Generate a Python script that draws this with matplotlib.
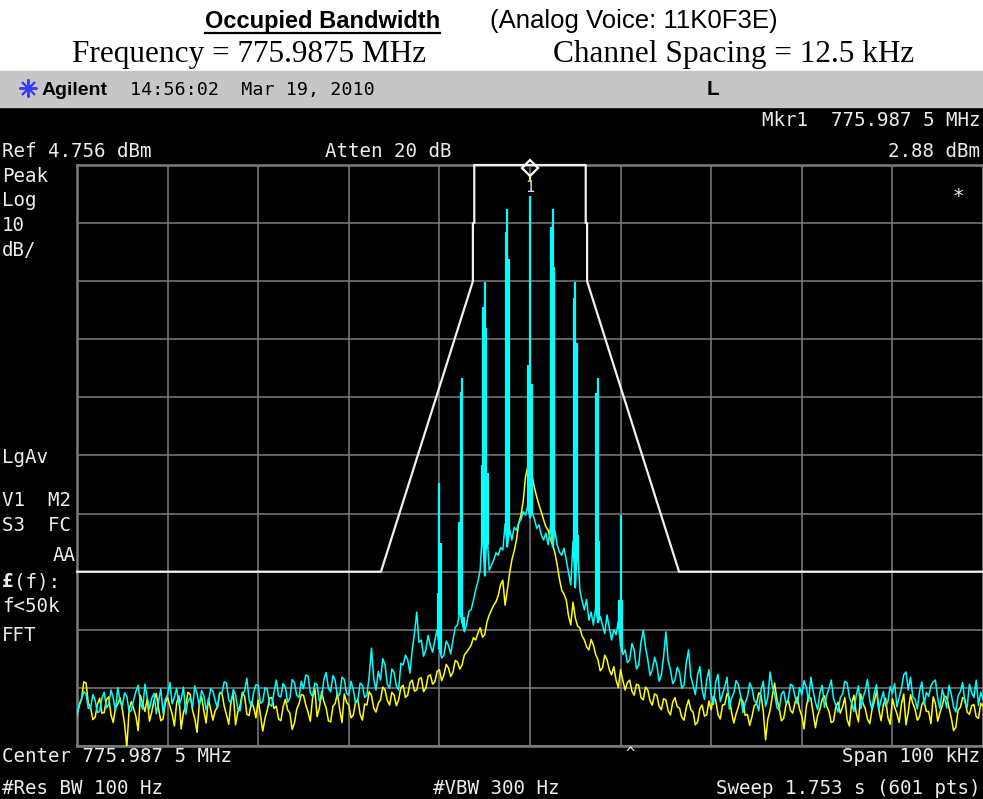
"""Occupied bandwidth capture: analyzer screen with two traces and emission mask"""
import numpy as np
import matplotlib.pyplot as plt
from matplotlib.patches import Rectangle
from matplotlib.lines import Line2D
from matplotlib import transforms

W, H = 983, 799

REF_LEVEL = 4.756          # dBm at top graticule
SPAN = 100                 # kHz
MKR_DBM = 2.88

# trace points every 0.25 kHz, -50 .. +50 kHz around centre
freq_khz = np.linspace(-50, 50, 401)

# cyan trace (dBm), one row per 2.5 kHz
trace_cyan = [
    -90.2, -88.0, -87.1, -85.9, -86.3, -88.8, -88.6, -86.4, -87.4, -89.5,
    -89.3, -87.0, -86.0, -88.7, -88.1, -85.6, -87.0, -89.2, -85.2, -87.6,
    -88.4, -86.1, -86.7, -89.4, -89.1, -87.3, -85.9, -84.8, -87.8, -88.9,
    -84.6, -86.9, -88.9, -87.0, -86.2, -89.7, -87.5, -85.4, -89.6, -87.2,
    -86.4, -84.3, -88.0, -86.8, -85.3, -88.2, -87.2, -85.1, -89.8, -87.5,
    -86.9, -88.6, -84.9, -86.3, -88.3, -85.7, -86.6, -89.0, -87.7, -85.4,
    -85.8, -87.4, -88.7, -86.0, -86.1, -84.2, -84.4, -87.3, -87.9, -85.5,
    -86.5, -88.9, -89.2, -86.4, -85.7, -83.6, -87.3, -88.5, -86.0, -84.7,
    -84.8, -87.9, -87.6, -85.2, -85.5, -88.1, -88.4, -85.9, -83.9, -86.6,
    -86.8, -84.5, -85.1, -87.7, -87.0, -83.8, -84.3, -86.5, -86.9, -84.1,
    -85.4, -83.0, -83.2, -86.1, -86.7, -84.4, -84.7, -87.5, -87.1, -83.7,
    -82.6, -85.3, -85.9, -83.1, -84.0, -86.8, -86.4, -83.4, -83.8, -86.2,
    -86.5, -84.1, -85.6, -87.9, -87.3, -84.4, -84.8, -86.9, -86.5, -83.2,
    -78.4, -83.7, -85.6, -82.4, -83.9, -80.2, -81.3, -84.6, -85.3, -82.0,
    -82.6, -84.9, -85.6, -81.0, -81.3, -79.6, -80.4, -82.7, -78.7, -75.8,
    -72.2, -77.4, -77.0, -79.8, -78.7, -76.2, -77.9, -79.1, -77.0, -75.3,
    -78.5, -80.1, -79.6, -77.2, -77.9, -79.4, -77.0, -74.8, -74.4, -72.0,
    -74.0, -75.6, -74.4, -72.1, -71.8, -70.2, -68.4, -66.9, -65.0, -58.0,
    -66.0, -58.5, -65.0, -64.1, -63.2, -62.0, -62.4, -61.1, -61.5, -57.0,
    -61.0, -58.0, -59.8, -57.6, -58.1, -56.8, -56.3, -54.9, -55.5, -54.0,
    -56.0, -55.1, -56.3, -57.8, -57.2, -58.9, -59.8, -58.6, -60.6, -57.5,
    -61.0, -58.2, -60.6, -61.9, -62.4, -61.2, -63.2, -65.4, -67.5, -60.0,
    -68.0, -60.5, -68.4, -70.3, -71.8, -70.0, -73.6, -72.2, -74.4, -71.5,
    -74.0, -73.0, -74.4, -75.9, -72.7, -74.8, -77.0, -75.2, -76.1, -73.8,
    -78.0, -79.5, -78.7, -80.9, -80.4, -77.6, -78.7, -82.0, -81.3, -77.4,
    -75.3, -78.2, -80.4, -83.1, -82.1, -80.0, -81.3, -84.1, -83.0, -79.8,
    -75.6, -80.6, -82.1, -84.5, -83.9, -81.7, -82.5, -85.3, -84.8, -80.9,
    -78.7, -83.3, -84.8, -86.4, -83.0, -81.6, -85.6, -87.2, -83.9, -82.1,
    -86.5, -88.1, -84.2, -82.9, -87.6, -86.3, -85.0, -83.4, -88.9, -87.0,
    -86.1, -84.0, -84.7, -86.6, -89.5, -87.8, -86.8, -84.4, -85.3, -87.4,
    -87.9, -89.2, -85.6, -84.1, -88.4, -86.9, -82.5, -85.0, -86.2, -88.6,
    -89.1, -86.3, -85.8, -87.9, -87.3, -84.6, -84.9, -86.7, -88.0, -85.2,
    -86.4, -84.0, -85.1, -87.6, -83.4, -85.8, -87.7, -89.0, -86.0, -84.8,
    -88.6, -86.5, -85.4, -83.9, -87.1, -88.2, -89.4, -86.9, -86.3, -84.1,
    -84.4, -86.8, -87.9, -89.3, -86.6, -84.9, -88.8, -87.0, -85.7, -83.8,
    -87.4, -88.9, -86.1, -84.7, -89.0, -87.3, -85.9, -88.4, -87.6, -85.0,
    -86.2, -84.5, -88.5, -86.9, -85.3, -83.0, -82.5, -85.6, -83.4, -86.8,
    -87.2, -88.9, -85.8, -84.2, -88.1, -86.0, -86.7, -84.9, -84.2, -83.9,
    -87.0, -88.8, -85.5, -86.9, -88.7, -84.8, -86.3, -88.5, -89.4, -86.6,
    -85.9, -84.3, -87.8, -88.6, -84.6, -86.1, -86.9, -83.9, -88.3, -86.0,
    -87.1,
]

# yellow trace (dBm), one row per 2.5 kHz
trace_yellow = [
    -89.8, -88.3, -87.2, -84.2, -84.4, -87.9, -88.6, -90.7, -90.3, -88.1,
    -87.0, -89.6, -89.5, -87.2, -86.8, -89.9, -91.2, -88.6, -88.1, -86.9,
    -88.9, -91.5, -95.4, -89.0, -87.6, -88.8, -90.1, -92.6, -86.5, -88.0,
    -89.3, -87.1, -91.0, -89.4, -87.4, -86.2, -88.8, -90.9, -90.6, -87.8,
    -86.9, -88.4, -89.7, -91.8, -87.8, -86.6, -92.3, -89.5, -88.2, -86.0,
    -86.4, -89.1, -90.5, -92.9, -88.0, -86.8, -89.2, -91.3, -87.1, -88.9,
    -90.8, -89.2, -88.5, -86.1, -86.2, -88.4, -89.9, -91.5, -87.5, -86.3,
    -91.6, -89.4, -88.3, -86.0, -86.7, -89.8, -90.0, -87.6, -88.6, -90.4,
    -87.3, -89.9, -92.7, -90.5, -89.1, -87.0, -86.9, -88.8, -88.4, -90.6,
    -90.9, -88.5, -87.2, -89.0, -89.6, -92.4, -91.3, -88.9, -88.0, -86.4,
    -86.5, -88.2, -89.4, -91.0, -87.0, -85.4, -90.2, -88.7, -85.9, -87.6,
    -88.7, -90.9, -91.1, -88.4, -87.9, -86.1, -89.0, -91.2, -86.3, -87.7,
    -88.2, -90.4, -89.9, -87.6, -87.3, -89.8, -90.8, -88.0, -88.2, -85.9,
    -86.5, -88.7, -89.4, -87.9, -87.3, -85.1, -85.6, -87.4, -88.2, -86.0,
    -86.5, -88.3, -87.3, -85.2, -84.8, -86.9, -86.5, -84.4, -83.9, -85.8,
    -85.6, -83.7, -83.5, -85.9, -85.3, -83.2, -83.0, -84.6, -84.2, -82.4,
    -82.1, -84.0, -83.0, -81.2, -81.8, -83.3, -82.5, -80.5, -80.8, -82.0,
    -81.3, -79.6, -79.1, -78.5, -77.9, -76.6, -77.0, -75.8, -74.9, -76.5,
    -76.1, -73.9, -72.7, -71.8, -71.0, -70.4, -69.3, -67.5, -66.7, -71.0,
    -68.4, -65.5, -63.2, -61.7, -59.8, -57.0, -55.5, -53.1, -49.0, -47.2,
    -46.5, -48.9, -50.9, -52.4, -53.8, -55.0, -56.3, -57.5, -58.1, -59.7,
    -60.6, -62.0, -64.1, -66.5, -68.4, -69.1, -70.1, -72.8, -74.4, -70.5,
    -73.2, -74.6, -74.9, -76.3, -77.0, -78.2, -78.7, -76.9, -77.9, -79.5,
    -80.4, -82.3, -81.8, -79.6, -80.4, -82.1, -83.0, -81.6, -83.9, -85.2,
    -82.1, -84.0, -85.6, -84.3, -83.9, -85.8, -86.5, -84.6, -84.8, -86.9,
    -87.3, -85.1, -85.6, -87.5, -88.2, -86.3, -86.5, -88.4, -89.0, -87.1,
    -87.3, -89.2, -89.9, -87.7, -86.9, -88.5, -88.7, -90.3, -90.8, -88.6,
    -87.3, -89.0, -89.4, -91.6, -91.1, -88.8, -88.2, -90.1, -89.9, -87.5,
    -89.0, -86.7, -87.4, -89.8, -90.6, -88.2, -88.1, -86.2, -86.9, -89.5,
    -91.3, -89.7, -88.5, -86.9, -87.6, -90.0, -89.8, -91.7, -90.2, -88.3,
    -88.0, -86.1, -86.5, -89.3, -94.2, -90.6, -89.1, -86.6, -84.4, -87.2,
    -88.7, -90.9, -90.5, -88.2, -87.3, -89.1, -89.6, -87.8, -86.8, -88.9,
    -90.1, -92.3, -88.4, -86.8, -87.0, -89.5, -92.1, -90.0, -88.9, -87.2,
    -86.6, -88.4, -89.3, -91.2, -91.0, -88.5, -87.7, -89.6, -88.5, -86.9,
    -90.7, -91.8, -87.9, -86.5, -89.5, -91.1, -86.3, -87.9, -88.8, -90.6,
    -91.4, -89.0, -87.6, -85.8, -89.0, -90.9, -88.2, -87.0, -90.3, -91.5,
    -87.1, -88.6, -89.7, -91.2, -88.0, -86.3, -91.6, -89.4, -86.4, -87.9,
    -88.9, -90.8, -90.2, -88.1, -87.5, -89.3, -89.3, -91.4, -86.8, -88.0,
    -91.0, -89.5, -88.3, -86.6, -86.9, -88.7, -90.4, -92.6, -92.0, -89.1,
    -88.6, -86.9, -87.2, -89.4, -89.8, -88.3, -88.1, -90.2, -90.5, -87.9,
    -88.4,
]

# FM sideband lines on the cyan trace (kHz, dBm at top of each line)
sideband_khz = [-10.17, -10.0, -9.83, -7.83, -7.67, -7.5, -7.33,
                -5.33, -5.17, -5.0, -4.83, -4.67,
                -2.67, -2.5, -2.33, -0.17, 0.0, 0.17,
                2.33, 2.5, 2.67, 4.83, 5.0, 5.17, 5.33,
                7.33, 7.5, 7.67, 7.83, 9.83, 10.0, 10.17]
sideband_dbm = [-68.9, -50.0, -60.3, -56.7, -34.3, -31.9, -73.0,
                -46.9, -19.7, -15.4, -23.3, -48.3,
                -6.8, -2.8, -11.4, -29.7, -0.4, -33.0,
                -5.9, -2.8, -12.8, -18.1, -15.4, -25.9, -59.0,
                -34.5, -31.9, -60.0, -73.2, -70.1, -55.5, -70.1]

# emission mask, dB relative to reference level
mask_khz = [-50, -16.45, -6.3, -6.3, -6.15, -6.15, 6.15, 6.15, 6.3, 6.3, 16.45, 50]
mask_rel_db = [-70, -70, -20, -10, -10, 0, 0, -10, -10, -20, -70, -70]

MONO = 'DejaVu Sans Mono'
TXT = '#ececec'


def put(x, y, s, **kw):
    """place text using pixel coordinates measured from the top left"""
    kw.setdefault('color', TXT)
    kw.setdefault('family', MONO)
    kw.setdefault('fontsize', 13.8)
    kw.setdefault('va', 'baseline')
    return fig.text(x / W, 1 - y / H, s, **kw)


fig = plt.figure(figsize=(W / 100, H / 100), dpi=100)
fig.patch.set_facecolor('white')
fig.add_artist(Rectangle((0, 0), 1, 1 - 107 / H, transform=fig.transFigure,
                         color='black', zorder=-10))
fig.add_artist(Rectangle((0, 1 - 107 / H), 1, 36 / H, transform=fig.transFigure,
                         color='#c6c6c6', zorder=-10))

ax = fig.add_axes([77 / W, 1 - 746 / H, (W - 77) / W, (746 - 165) / H])
ax.set_facecolor('black')
ax.set_xlim(-SPAN / 2, SPAN / 2)
ax.set_ylim(REF_LEVEL - 100, REF_LEVEL)
ax.set_xticks(np.arange(-50, 51, 10))
ax.set_yticks(REF_LEVEL - np.arange(0, 101, 10))
ax.grid(color='#7c7c7c', lw=1.1)
ax.tick_params(length=0, labelbottom=False, labelleft=False)
for sp in ax.spines.values():
    sp.set_color('#7c7c7c')
    sp.set_linewidth(1.8)

cyan = np.array(trace_cyan)
yellow = np.array(trace_yellow)

ax.plot(freq_khz, yellow, color='#ffff00', lw=1.1, zorder=3)
ax.vlines([0.0], np.interp([0.0], freq_khz, yellow), [MKR_DBM],
          color='#ffff00', lw=1.3, zorder=3)
ax.plot(freq_khz, cyan, color='#00ffff', lw=1.1, zorder=4)
ax.vlines(sideband_khz, np.interp(sideband_khz, freq_khz, cyan), sideband_dbm,
          color='#00ffff', lw=1.6, zorder=4)
ax.plot(mask_khz, REF_LEVEL + np.array(mask_rel_db), color='#f0f0f0', lw=1.6,
        zorder=5, clip_on=False)

# marker 1 diamond sits just above the marker level
up = transforms.offset_copy(ax.transData, fig=fig, x=0, y=8, units='dots')
ax.plot([0], [MKR_DBM], marker='D', ms=8.5, mfc='none', mec='white', mew=1.6,
        transform=up, clip_on=False, zorder=6)
ax.annotate('1', xy=(0, MKR_DBM), xytext=(0, -3), textcoords='offset points',
            ha='center', va='top', color='#e0e0e0', family=MONO, fontsize=11,
            zorder=7, bbox=dict(fc='black', ec='none', pad=0.3))

# page heading
t = put(205, 28, 'Occupied Bandwidth', family='Liberation Sans', fontsize=17,
        fontweight='bold', color='black')
put(490, 28, '(Analog Voice: 11K0F3E)', family='Liberation Sans', fontsize=18.5,
    color='black')
put(72, 62, 'Frequency = 775.9875 MHz', family='Liberation Serif', fontsize=22.5,
    color='black')
put(553, 62, 'Channel Spacing = 12.5 kHz', family='Liberation Serif',
    fontsize=22.5, color='black')
fig.canvas.draw()
bb = t.get_window_extent()
fig.add_artist(Line2D([bb.x0 / W, bb.x1 / W], [1 - 33 / H, 1 - 33 / H],
                      transform=fig.transFigure, color='black', lw=1.6))

# title bar
fig.add_artist(Line2D([28 / W], [1 - 88 / H], transform=fig.transFigure,
                      marker=(8, 2, 0), ms=13, mew=1.4, color='#3a3aff'))
put(42, 95, 'Agilent', family='Liberation Sans', fontsize=14, fontweight='bold',
    color='black')
put(130, 95, '14:56:02  Mar 19, 2010', fontsize=13.2, color='black')
put(707, 95, 'L', family='Liberation Sans', fontsize=15, fontweight='bold',
    color='black')

# annotation around the graticule
put(980, 126, 'Mkr1  775.987 5 MHz', ha='right')
put(2, 157, 'Ref 4.756 dBm')
put(325, 157, 'Atten 20 dB')
put(980, 157, '2.88 dBm', ha='right')
put(952, 202, '*')
for y, s in [(182, 'Peak'), (206, 'Log'), (231, '10'), (256, 'dB/'),
             (463, 'LgAv'), (506, 'V1  M2'), (531, 'S3  FC'),
             (612, 'f<50k'), (641, 'FFT')]:
    put(2, y, s)
put(76, 561, 'AA', ha='right')
put(2, 587, '£', fontweight='bold')
put(14, 587, '(f):')
put(980, 762, 'Span 100 kHz', ha='right')
put(2, 762, 'Center 775.987 5 MHz')
put(630, 758, '^', ha='center', fontsize=11)
put(2, 794, '#Res BW 100 Hz')
put(433, 794, '#VBW 300 Hz')
put(980, 794, 'Sweep 1.753 s (601 pts)', ha='right')

fig.savefig('out.png', dpi=100, facecolor=fig.get_facecolor())
